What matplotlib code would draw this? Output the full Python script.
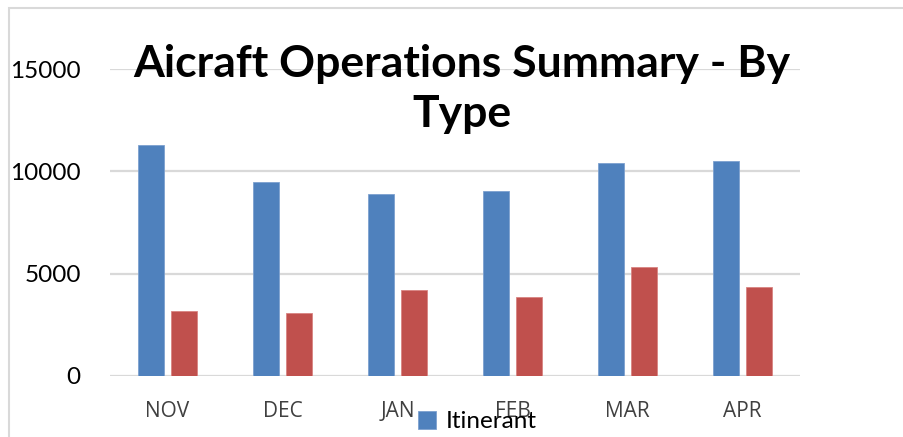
import numpy as np
import matplotlib.pyplot as plt
from matplotlib.patches import Rectangle

months = ["NOV", "DEC", "JAN", "FEB", "MAR", "APR"]
itinerant = [11280, 9480, 8880, 9040, 10400, 10490]
local = [3160, 3080, 4190, 3860, 5310, 4350]
yticks = [0, 5000, 10000, 15000]

BLUE = "#4F81BD"
RED = "#C0504D"

plt.rcParams['font.family'] = ['Lato', 'DejaVu Sans']

fig = plt.figure(figsize=(9.04, 4.37), dpi=100)
ax = fig.add_axes([110 / 904, 61 / 437, 690 / 904, 307 / 437])

x = np.arange(len(months))
w = 0.223
off = 0.1435
bars1 = ax.bar(x - off, itinerant, w, color=BLUE, edgecolor="#7DA1CF", linewidth=0.6, zorder=3, label="Itinerant")
bars2 = ax.bar(x + off, local, w, color=RED, edgecolor="#D88482", linewidth=0.6, zorder=3, label="Local")

ax.set_xlim(-0.5, len(months) - 0.5)
ax.set_ylim(0, 15000)
ax.set_yticks(yticks)
ax.set_yticklabels([str(v) for v in yticks], fontsize=17.5, color="black")
ax.set_xticks(x)
ax.set_xticklabels(months, fontsize=15, color="#404040", family=['Open Sans', 'DejaVu Sans'])
ax.tick_params(axis='y', length=0, pad=21)
ax.tick_params(axis='x', length=0, pad=18)
ax.grid(axis='y', color="#D9D9D9", linewidth=1.6, zorder=0)
ax.set_axisbelow(True)
for s in ax.spines.values():
    s.set_visible(False)

fig.text(0.5105, 0.796, "Aicraft Operations Summary - By\nType", ha='center', va='center',
         fontsize=32, fontweight='bold', linespacing=1.31)

leg = fig.legend(handles=[bars1], labels=["Itinerant"], loc='lower left',
                 bbox_to_anchor=(401 / 904, -0.028), frameon=False, fontsize=17.5,
                 handlelength=0.75, handleheight=0.75, handletextpad=0.4, borderpad=0.2)

# chart border, cropped on right and bottom
fig.patches.append(Rectangle((8.5 / 904, -0.1), 1.2, (437 - 7.5) / 437 + 0.1,
                             transform=fig.transFigure, fill=False,
                             edgecolor="#D9D9D9", linewidth=1.5, zorder=0))

fig.savefig("out.png", dpi=100)
